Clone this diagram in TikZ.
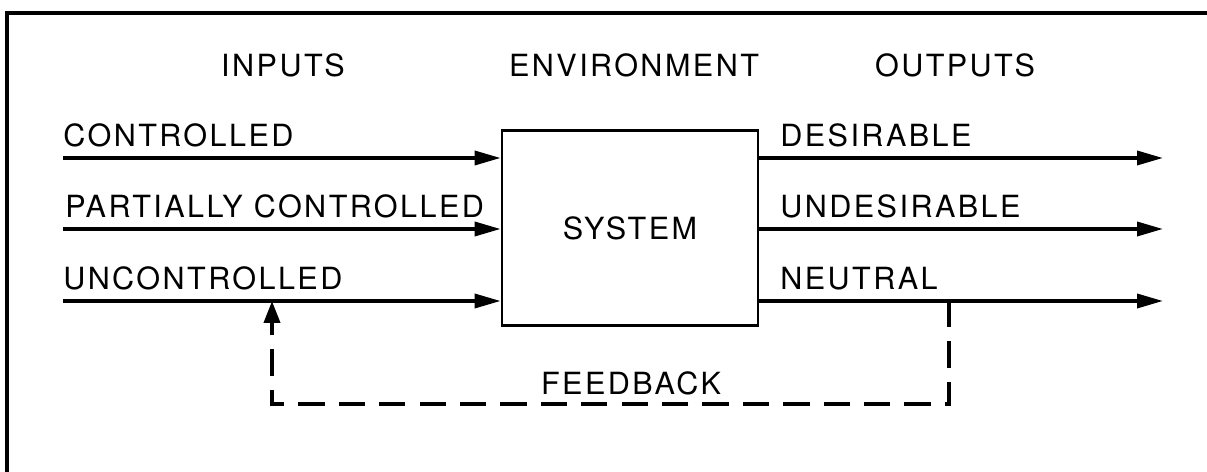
\documentclass[tikz,border=0pt]{standalone}
\usepackage{fontspec}
\setmainfont{TeX Gyre Heros}[LetterSpace=8]
\usetikzlibrary{arrows.meta, positioning, calc}

\begin{document}
\begin{tikzpicture}[
    x=0.02cm, y=-0.02cm,
    every node/.style={font=\fontsize{17.4}{20}\selectfont, text=black},
    heading/.style={anchor=base, inner sep=0pt},
    label/.style={anchor=base west, inner sep=0pt},
    sysbox/.style={rectangle, draw=black, line width=1.6pt, minimum width=5.12cm, minimum height=3.9cm, inner sep=0pt},
    arrow/.style={-{Triangle[length=0.52cm, width=0.28cm]}, line width=2pt, draw=black},
    fbarrow/.style={-{Triangle[length=0.44cm, width=0.32cm]}, line width=2.2pt, dash pattern=on 15pt off 8pt, draw=black},
    frame/.style={line width=2.2pt, draw=black}
]
\useasboundingbox (0,0) rectangle (1207,472);

% frame (cut off on the right and bottom)
\draw[frame] (7,472) -- (7,13) -- (1207,13);

% headings
\node[heading] (hin) at (283,77) {INPUTS};
\node[heading] (henv) at (634,77) {ENVIRONMENT};
\node[heading] (hout) at (955,77) {OUTPUTS};

% the system
\node[sysbox] (sys) at (630,228) {SYSTEM};

% inputs
\coordinate (inC) at (63,158);
\coordinate (inP) at (63,229);
\coordinate (inU) at (63,301);
\node[label] (lC) at (63,147) {CONTROLLED};
\node[label] (lP) at (65,218) {PARTIALLY CONTROLLED};
\node[label] (lU) at (63,290) {UNCONTROLLED};
\draw[arrow] (inC) -- (sys.west |- inC);
\draw[arrow] (inP) -- (sys.west |- inP);
\draw[arrow] (inU) -- (sys.west |- inU);

% outputs
\coordinate (outD) at (1163,158);
\coordinate (outU) at (1163,229);
\coordinate (outN) at (1163,301);
\node[label] (lD) at (780,147) {DESIRABLE};
\node[label] (lUD) at (780,218) {UNDESIRABLE};
\node[label] (lN) at (780,290) {NEUTRAL};
\draw[arrow] (sys.east |- outD) -- (outD);
\draw[arrow] (sys.east |- outU) -- (outU);
\draw[arrow] (sys.east |- outN) -- (outN);

% feedback loop
\coordinate (tap) at (949,301);
\coordinate (inject) at (272,301);
\draw[fbarrow] (tap) -- ++(0,103) -| (inject);
\node[heading] (fb) at (631,395) {FEEDBACK};

\end{tikzpicture}
\end{document}
